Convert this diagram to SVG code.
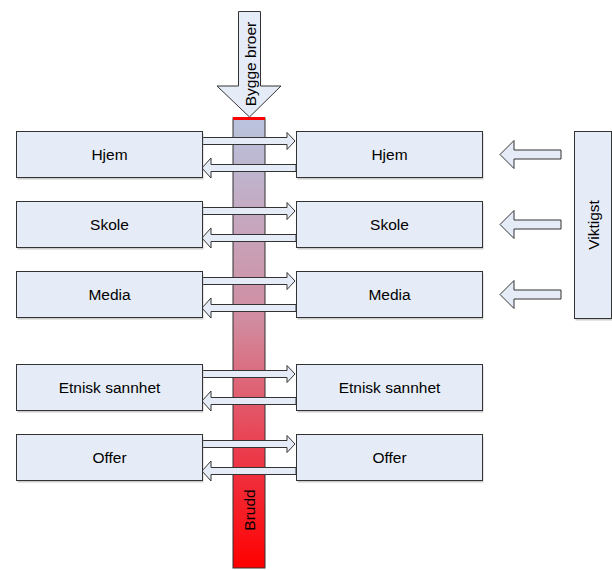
<svg xmlns="http://www.w3.org/2000/svg" width="612" height="570" viewBox="0 0 612 570">
<defs>
<linearGradient id="barg" x1="0" y1="0" x2="0" y2="1">
<stop offset="0" stop-color="#b9c3de"/>
<stop offset="0.45" stop-color="#d18ca0"/>
<stop offset="0.75" stop-color="#ec3a4a"/>
<stop offset="1" stop-color="#ff0000"/>
</linearGradient>
<path id="ra" d="M0,-3.5 H85 V-8.5 L93,0 L85,8.5 V3.5 H0 Z"/>
<path id="la" d="M0,0 L9,-10 V-3.5 H94 V3.5 H9 V10 Z"/>
<path id="big" d="M0,0 L14,-14 V-4.5 H61 V4.5 H14 V14 Z"/>
</defs>
<style>
.box{fill:#e6ecf7;stroke:#333;stroke-width:1}
.sh{fill:#999;opacity:0.5}
.arr{fill:#e6ecf7;stroke:#333;stroke-width:1}
.t{font-family:"Liberation Sans",Arial,sans-serif;font-size:15.5px;fill:#000;text-anchor:middle;dominant-baseline:central}
</style>
<g id="bar">
<rect x="233" y="118" width="32" height="450" fill="url(#barg)" stroke="#333" stroke-width="1"/>
<line x1="233" y1="118.5" x2="265" y2="118.5" stroke="#ff0000" stroke-width="3"/>
<text class="t" transform="translate(249,510) rotate(-90)">Brudd</text>
</g>
<g id="bygge-broer">
<path class="arr" d="M238.5,11.5 H260.5 V86 H281 L249.5,117 L217,86 H238.5 Z"/>
<text class="t" transform="translate(250,64) rotate(-90)">Bygge broer</text>
</g>
<g id="connectors">
<use href="#ra" class="arr" x="202" y="141"/>
<use href="#la" class="arr" x="202" y="168"/>
<use href="#ra" class="arr" x="202" y="211"/>
<use href="#la" class="arr" x="202" y="238"/>
<use href="#ra" class="arr" x="202" y="281"/>
<use href="#la" class="arr" x="202" y="308"/>
<use href="#ra" class="arr" x="202" y="374"/>
<use href="#la" class="arr" x="202" y="401"/>
<use href="#ra" class="arr" x="202" y="444"/>
<use href="#la" class="arr" x="202" y="471"/>
<use href="#big" class="arr" x="500" y="154.5"/>
<use href="#big" class="arr" x="500" y="224.5"/>
<use href="#big" class="arr" x="500" y="294.5"/>
</g>
<g id="hjem-l"><rect class="sh" x="17.5" y="133.5" width="186" height="46"/><rect class="box" x="16.5" y="131.5" width="186" height="46"/><text class="t" x="109.5" y="154.5">Hjem</text></g>
<g id="hjem-r"><rect class="sh" x="297.5" y="133.5" width="186" height="46"/><rect class="box" x="296.5" y="131.5" width="186" height="46"/><text class="t" x="389.5" y="154.5">Hjem</text></g>
<g id="skole-l"><rect class="sh" x="17.5" y="203.5" width="186" height="46"/><rect class="box" x="16.5" y="201.5" width="186" height="46"/><text class="t" x="109.5" y="224.5">Skole</text></g>
<g id="skole-r"><rect class="sh" x="297.5" y="203.5" width="186" height="46"/><rect class="box" x="296.5" y="201.5" width="186" height="46"/><text class="t" x="389.5" y="224.5">Skole</text></g>
<g id="media-l"><rect class="sh" x="17.5" y="273.5" width="186" height="46"/><rect class="box" x="16.5" y="271.5" width="186" height="46"/><text class="t" x="109.5" y="294.5">Media</text></g>
<g id="media-r"><rect class="sh" x="297.5" y="273.5" width="186" height="46"/><rect class="box" x="296.5" y="271.5" width="186" height="46"/><text class="t" x="389.5" y="294.5">Media</text></g>
<g id="etnisk-l"><rect class="sh" x="17.5" y="366.5" width="186" height="46"/><rect class="box" x="16.5" y="364.5" width="186" height="46"/><text class="t" x="109.5" y="387.5">Etnisk sannhet</text></g>
<g id="etnisk-r"><rect class="sh" x="297.5" y="366.5" width="186" height="46"/><rect class="box" x="296.5" y="364.5" width="186" height="46"/><text class="t" x="389.5" y="387.5">Etnisk sannhet</text></g>
<g id="offer-l"><rect class="sh" x="17.5" y="436.5" width="186" height="46"/><rect class="box" x="16.5" y="434.5" width="186" height="46"/><text class="t" x="109.5" y="457.5">Offer</text></g>
<g id="offer-r"><rect class="sh" x="297.5" y="436.5" width="186" height="46"/><rect class="box" x="296.5" y="434.5" width="186" height="46"/><text class="t" x="389.5" y="457.5">Offer</text></g>
<g id="viktigst"><rect class="sh" x="575.5" y="133.5" width="37" height="187"/><rect class="box" x="574.5" y="131.5" width="37" height="187"/><text class="t" transform="translate(593,225) rotate(-90)">Viktigst</text></g>
</svg>
